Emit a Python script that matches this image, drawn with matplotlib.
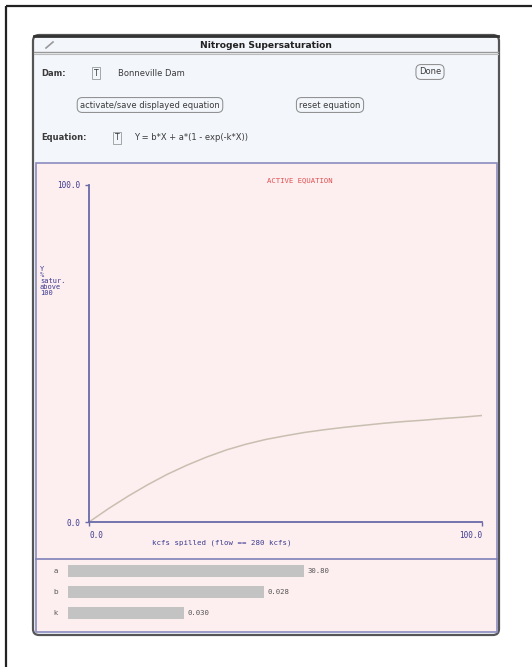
import numpy as np
import matplotlib
matplotlib.use('Agg')
import matplotlib.pyplot as plt
from matplotlib.patches import Rectangle, FancyBboxPatch

# 曲線上讀出的點 (kcfs spilled, % saturation above 100)
flow = [0, 5, 10, 15, 20, 25, 30, 35, 40, 45, 50, 55, 60, 65, 70, 75, 80, 85, 90, 95, 100]
saturation = [0.0, 4.0, 7.7, 11.1, 14.2, 16.9, 19.3, 21.4, 23.1, 24.5, 25.6, 26.6, 27.4,
              28.1, 28.7, 29.3, 29.8, 30.2, 30.7, 31.1, 31.6]

# 滑桿
slider_names = ['a', 'b', 'k']
slider_values = ['30.80', '0.028', '0.030']
slider_fill = [0.59, 0.49, 0.29]

x_ticks = [0, 100]
y_ticks = [0, 100]

W, H = 532, 667
fig = plt.figure(figsize=(W / 100, H / 100), dpi=100)
plt.rcParams['font.family'] = ['DejaVu Sans']

# 背景畫布，用像素座標畫視窗外框
bg = fig.add_axes([0, 0, 1, 1])
bg.set_xlim(0, W)
bg.set_ylim(H, 0)
bg.axis('off')

bg.add_patch(Rectangle((6, 6), 540, 680, fill=False, edgecolor='#222222', lw=1.6))
bg.add_patch(FancyBboxPatch((33, 35), 466, 600, boxstyle='round,pad=0,rounding_size=6',
                            facecolor='#f3f6fb', edgecolor='#555555', lw=1.6))
bg.plot([34, 498], [36, 36], color='#333333', lw=2)
bg.plot([34, 498], [52, 52], color='#999999', lw=1)
bg.plot([34, 498], [54, 54], color='#bbbbbb', lw=0.8)
bg.text(266, 45, 'Nitrogen Supersaturation', ha='center', va='center', fontsize=6.6,
        fontweight='bold', color='#222222')
bg.plot([46, 53], [48, 42], color='#999999', lw=1.2)

txt = dict(fontsize=6, color='#3a3a3a', va='center')
btn = dict(boxstyle='round,pad=0.35,rounding_size=0.6', facecolor='#f3f6fb',
           edgecolor='#888888', lw=0.7)
tbox = dict(boxstyle='square,pad=0.25', facecolor='#f3f6fb', edgecolor='#999999', lw=0.6)
bg.text(41, 73, 'Dam:', fontweight='bold', **txt)
bg.text(96, 73, 'T', ha='center', fontsize=5.5, color='#333333', va='center', bbox=tbox)
bg.text(118, 73, 'Bonneville Dam', **txt)
bg.text(430, 72, 'Done', ha='center', bbox=btn, **txt)
bg.text(150, 105, 'activate/save displayed equation', ha='center', bbox=btn, **txt)
bg.text(330, 105, 'reset equation', ha='center', bbox=btn, **txt)
bg.text(41, 138, 'Equation:', fontweight='bold', **txt)
bg.text(117, 138, 'T', ha='center', fontsize=5.5, color='#333333', va='center', bbox=tbox)
bg.text(134, 138, 'Y = b*X + a*(1 - exp(-k*X))', **txt)

# 粉紅色繪圖面板
bg.add_patch(Rectangle((36, 163), 461, 469, facecolor='#fdeeef', edgecolor='#8c8cc0', lw=1.2))
bg.plot([36, 497], [559, 559], color='#8080b8', lw=1.2)
bg.text(300, 180, 'ACTIVE EQUATION', ha='center', va='center', fontsize=5.2,
        color='#e05050', family='monospace')
bg.text(40, 281, 'Y\n%\nsatur.\nabove\n100', ha='left', va='center', fontsize=5,
        color='#3a3a90', family='monospace', linespacing=1.0)
bg.text(222, 543, 'kcfs spilled (flow == 280 kcfs)', ha='center', va='center',
        fontsize=5.3, color='#3a3a90', family='monospace')

# 主圖
ax = fig.add_axes([89 / W, 1 - 522 / H, (482 - 89) / W, (522 - 185) / H])
ax.patch.set_alpha(0)
ax.plot(flow, saturation, color='#c8bfb0', lw=1.1)
ax.set_xlim(0, 100)
ax.set_ylim(0, 100)
for s in ['top', 'right']:
    ax.spines[s].set_visible(False)
for s in ['left', 'bottom']:
    ax.spines[s].set_color('#6a6aa8')
    ax.spines[s].set_linewidth(1.3)
ax.set_xticks(x_ticks)
ax.set_xticklabels(['0.0', '100.0'])
ax.set_yticks(y_ticks)
ax.set_yticklabels(['0.0', '100.0'])
ax.tick_params(colors='#6a6aa8', labelcolor='#3a3a90', labelsize=5.5, length=3, width=1)
ax.get_xticklabels()[0].set_horizontalalignment('left')
ax.get_xticklabels()[1].set_horizontalalignment('right')
for lab in ax.get_xticklabels() + ax.get_yticklabels():
    lab.set_family('monospace')

# 滑桿
sl = fig.add_axes([68 / W, 1 - 624 / H, 400 / W, (624 - 560) / H])
sl.patch.set_alpha(0)
sl.axis('off')
ypos = np.arange(len(slider_names))
sl.barh(ypos, slider_fill, height=0.55, color='#c3c3c3')
sl.set_xlim(0, 1)
sl.set_ylim(len(slider_names) - 0.5, -0.5)
for i, (n, v, f) in enumerate(zip(slider_names, slider_values, slider_fill)):
    sl.text(-0.025, i, n, ha='right', va='center', fontsize=5.2, color='#555555')
    sl.text(f + 0.01, i, v, ha='left', va='center', fontsize=5.2, color='#555555',
            family='monospace')

fig.savefig('out.png', dpi=100)
